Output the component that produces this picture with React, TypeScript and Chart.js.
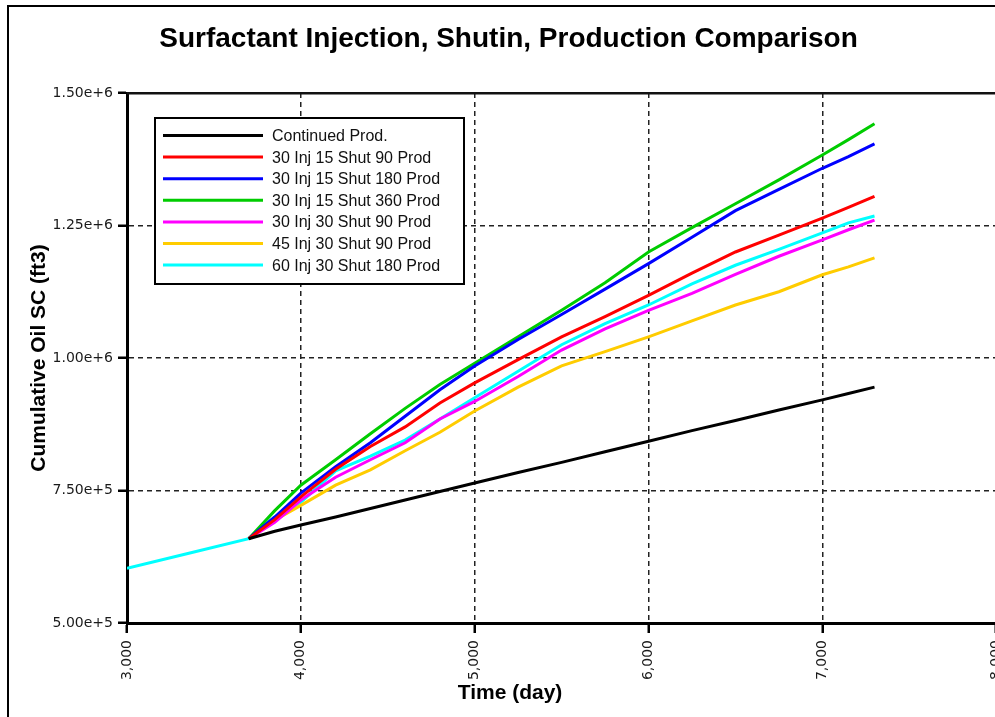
import React, { useEffect, useRef } from 'react';
import { Chart, registerables } from 'chart.js';

Chart.register(...registerables);

const TITLE = 'Surfactant Injection, Shutin, Production Comparison';
const X_TITLE = 'Time (day)';
const Y_TITLE = 'Cumulative Oil SC (ft3)';

const xTicks = [3000, 4000, 5000, 6000, 7000, 8000];
const yTicks = [500000, 750000, 1000000, 1250000, 1500000];

const seriesNames = [
  'Continued Prod.',
  '30 Inj 15 Shut 90 Prod',
  '30 Inj 15 Shut 180 Prod',
  '30 Inj 15 Shut 360 Prod',
  '30 Inj 30 Shut 90 Prod',
  '45 Inj 30 Shut 90 Prod',
  '60 Inj 30 Shut 180 Prod',
];
const seriesColors = ['#000000', '#ff0000', '#0000ff', '#00cc00', '#ff00ff', '#ffcc00', '#00ffff'];

// shared history before the treatments start
const earlyDays = [3000, 3350];
const earlyOil = [603000, 631000];

const days = [3700, 3850, 4000, 4200, 4400, 4600, 4800, 5000, 5250, 5500, 5750, 6000, 6250, 6500, 6750, 7000, 7150, 7300];

const continuedProd = [659000, 673000, 685000, 700000, 716000, 732000, 748000, 764000, 784000, 803000, 823000, 843000, 863000, 882000, 902000, 921000, 933000, 945000];
const inj30shut15prod90 = [659000, 695000, 738000, 790000, 833000, 870000, 915000, 953000, 997000, 1040000, 1078000, 1118000, 1160000, 1200000, 1232000, 1264000, 1284000, 1305000];
const inj30shut15prod180 = [659000, 700000, 745000, 795000, 840000, 890000, 940000, 985000, 1035000, 1082000, 1130000, 1178000, 1228000, 1278000, 1318000, 1358000, 1380000, 1404000];
const inj30shut15prod360 = [659000, 712000, 760000, 808000, 857000, 905000, 950000, 990000, 1040000, 1090000, 1142000, 1200000, 1246000, 1291000, 1336000, 1383000, 1412000, 1442000];
const inj30shut30prod90 = [659000, 690000, 732000, 775000, 808000, 840000, 885000, 918000, 965000, 1015000, 1055000, 1090000, 1122000, 1158000, 1192000, 1223000, 1242000, 1260000];
const inj45shut30prod90 = [659000, 694000, 722000, 760000, 789000, 825000, 860000, 900000, 945000, 985000, 1012000, 1040000, 1070000, 1100000, 1125000, 1157000, 1172000, 1189000];
const inj60shut30prod180 = [659000, 700000, 728000, 787000, 815000, 845000, 885000, 925000, 975000, 1025000, 1065000, 1100000, 1140000, 1175000, 1205000, 1236000, 1255000, 1268000];

const seriesValues = [
  continuedProd,
  inj30shut15prod90,
  inj30shut15prod180,
  inj30shut15prod360,
  inj30shut30prod90,
  inj45shut30prod90,
  inj60shut30prod180,
];

const SANS = "'Liberation Sans', Arial, sans-serif";
const TICKFONT = "'DejaVu Sans', Verdana, sans-serif";

const decorPlugin = {
  id: 'decor',
  afterDraw(chart: any) {
    const ctx = chart.ctx as CanvasRenderingContext2D;
    const area = chart.chartArea;
    ctx.save();
    // outer frame
    ctx.fillStyle = '#000';
    ctx.fillRect(7, 5, 2, 800);
    ctx.fillRect(7, 5, 1100, 2);
    // plot top border
    ctx.fillStyle = '#111';
    ctx.fillRect(area.left, area.top - 1, area.right - area.left, 2.5);
    // title
    ctx.fillStyle = '#000';
    ctx.font = `bold 28px ${SANS}`;
    ctx.textAlign = 'center';
    ctx.textBaseline = 'alphabetic';
    ctx.fillText(TITLE, 508.5, 47);
    // x title
    ctx.font = `bold 21px ${SANS}`;
    ctx.textBaseline = 'middle';
    ctx.fillText(X_TITLE, 510, 693);
    // y title
    ctx.save();
    ctx.translate(39, (area.top + area.bottom) / 2);
    ctx.rotate(-Math.PI / 2);
    ctx.fillText(Y_TITLE, 0, 0);
    ctx.restore();
    // legend
    const bx = 155, by = 118, bw = 309, bh = 166;
    ctx.fillStyle = '#fff';
    ctx.fillRect(bx, by, bw, bh);
    ctx.strokeStyle = '#000';
    ctx.lineWidth = 2;
    ctx.strokeRect(bx, by, bw, bh);
    ctx.font = `16px ${SANS}`;
    ctx.textAlign = 'left';
    ctx.textBaseline = 'middle';
    chart.data.datasets.forEach((ds: any, i: number) => {
      const y = 135.5 + i * 21.6;
      ctx.strokeStyle = ds.borderColor;
      ctx.lineWidth = 3;
      ctx.beginPath();
      ctx.moveTo(163, y);
      ctx.lineTo(263, y);
      ctx.stroke();
      ctx.fillStyle = '#111';
      ctx.fillText(ds.label, 272, y + 1);
    });
    ctx.restore();
  },
};

export default function App() {
  const ref = useRef<HTMLCanvasElement | null>(null);

  useEffect(() => {
    if (!ref.current) return;
    const datasets = seriesValues.map((vals, i) => {
      const pts = days.map((d, j) => ({ x: d, y: vals[j] }));
      const data = i === seriesValues.length - 1
        ? earlyDays.map((d, j) => ({ x: d, y: earlyOil[j] })).concat(pts)
        : pts;
      return {
        label: seriesNames[i],
        data,
        borderColor: seriesColors[i],
        backgroundColor: seriesColors[i],
        borderWidth: 3,
        pointRadius: 0,
        tension: 0,
        fill: false,
      };
    });

    const chart = new Chart(ref.current, {
      type: 'line',
      data: { datasets },
      options: {
        responsive: false,
        animation: false,
        devicePixelRatio: 1,
        layout: { padding: { top: 93, left: 0, right: 20, bottom: 0 } },
        plugins: {
          legend: { display: false },
          tooltip: { enabled: false },
          title: { display: false },
        },
        scales: {
          x: {
            type: 'linear',
            min: 3000,
            max: 8000,
            afterFit: (s: any) => { s.height = 94; },
            afterBuildTicks: (s: any) => { s.ticks = xTicks.map((v) => ({ value: v })); },
            ticks: {
              autoSkip: false,
              minRotation: 90,
              maxRotation: 90,
              padding: 7,
              color: '#1a1a1a',
              font: { family: TICKFONT, size: 14 },
              callback: (v: any) => Number(v).toLocaleString('en-US'),
            },
            grid: {
              color: '#222',
              lineWidth: 1.5,
              tickLength: 10,
              tickWidth: 2.5,
              tickColor: '#000',
            },
            border: { display: true, color: '#000', width: 3, dash: [5, 4] },
          },
          y: {
            type: 'linear',
            min: 500000,
            max: 1500000,
            afterFit: (s: any) => { s.width = 127; },
            afterBuildTicks: (s: any) => { s.ticks = yTicks.map((v) => ({ value: v })); },
            ticks: {
              padding: 5,
              color: '#1a1a1a',
              font: { family: TICKFONT, size: 14 },
              callback: (v: any) => Number(v).toExponential(2),
            },
            grid: {
              color: '#222',
              lineWidth: 1.5,
              tickLength: 9,
              tickWidth: 2.5,
              tickColor: '#000',
            },
            border: { display: true, color: '#000', width: 3, dash: [5, 4] },
          },
        },
      },
      plugins: [decorPlugin],
    });
    return () => chart.destroy();
  }, []);

  return (
    <div style={{ position: 'fixed', left: 0, top: 0, width: '995px', height: '717px', overflow: 'hidden', background: '#fff' }}>
      <canvas ref={ref} width={1020} height={717} style={{ display: 'block', width: '1020px', height: '717px' }} />
    </div>
  );
}
